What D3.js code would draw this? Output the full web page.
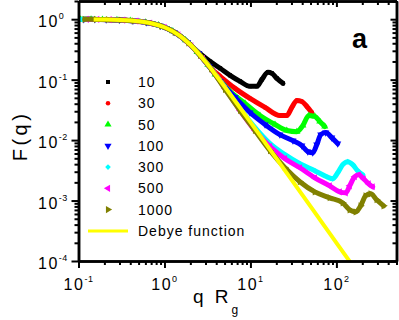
<!DOCTYPE html>
<html><head><meta charset="utf-8">
<script src="https://cdn.jsdelivr.net/npm/d3@7"></script>
<style>body{margin:0;background:#fff}svg{display:block}</style>
</head><body><svg id="c" width="399" height="320"></svg>
<script>
// ---- data ----
const seriesNames = ["10","30","50","100","300","500","1000"];
const seriesColors = ["#000000","#ff0000","#00ff00","#0000ff","#00ffff","#ff00ff","#808000"];

const qN10 = [0.13,0.17,0.24,0.35,0.5,0.75,1.1,1.6,2.2,2.6,3.4,4.44,5.79,7.57,9.88,11.9,13.6,16.0,17.8,20.3,23.9];
const fN10 = [0.994,0.990,0.981,0.960,0.922,0.836,0.694,0.50,0.33,0.27,0.20,0.154,0.118,0.0937,0.0774,0.0774,0.101,0.132,0.127,0.105,0.0868];

const qN30 = [0.12,0.16,0.22,0.32,0.45,0.65,0.95,1.35,1.9,2.6,3.4,4.44,6.62,9.88,14.8,22.0,26.5,30.3,34.7,39.6,45.3,51.7];
const fN30 = [0.995,0.992,0.984,0.967,0.936,0.873,0.757,0.593,0.405,0.252,0.158,0.1135,0.0717,0.0489,0.0347,0.0255,0.0255,0.0347,0.0453,0.0436,0.0360,0.0286];

const qN50 = [0.105,0.14,0.19,0.28,0.4,0.6,0.85,1.25,1.75,2.4,3.2,3.88,5.79,8.65,12.9,19.3,26.5,34.7,40.7,47.8,56.1,64.1,73.2];
const fN50 = [0.996,0.994,0.988,0.974,0.948,0.890,0.797,0.633,0.450,0.287,0.176,0.1225,0.0639,0.0404,0.0255,0.0181,0.0144,0.0138,0.0174,0.0255,0.0246,0.0203,0.0168];

const qN100 = [0.115,0.155,0.21,0.3,0.43,0.62,0.9,1.3,1.85,2.5,3.3,4.44,6.62,9.88,14.8,22.0,31.2,39.6,46.5,53.1,59.1,65.8,75.2,88.2,103.5];
const fN100 = [0.996,0.992,0.986,0.971,0.941,0.883,0.777,0.612,0.419,0.269,0.167,0.095,0.0508,0.0286,0.0181,0.0123,0.00981,0.00811,0.00645,0.00620,0.00842,0.0123,0.0133,0.0110,0.00875];

const qN300 = [0.11,0.145,0.2,0.29,0.42,0.58,0.82,1.2,1.7,2.3,3.1,4.0,5.07,7.57,11.3,16.9,25.2,37.6,56.1,77.2,90.6,103.5,118.4,135.3,154.6,176.6,201.9];
const fN300 = [0.996,0.993,0.987,0.973,0.943,0.897,0.809,0.653,0.466,0.307,0.187,0.117,0.073,0.033,0.0161,0.00875,0.00574,0.00407,0.00311,0.00248,0.00229,0.00288,0.00392,0.00440,0.00392,0.00311,0.00267];

const qN500 = [0.125,0.165,0.23,0.33,0.47,0.68,1.0,1.45,2.05,2.8,3.7,5.07,7.57,11.3,16.9,25.2,37.6,56.1,83.6,109.3,128.2,142.7,163.1,181.4,207.3,237.1,263.9];
const fN500 = [0.995,0.991,0.983,0.965,0.931,0.861,0.736,0.554,0.364,0.223,0.135,0.0717,0.0309,0.0144,0.0078,0.00493,0.00349,0.00238,0.00175,0.00139,0.00134,0.00175,0.00248,0.00267,0.00229,0.00189,0.00169];

const qN1000 = [0.118,0.16,0.22,0.31,0.44,0.63,0.92,1.32,1.9,2.6,3.5,5.07,7.57,11.3,16.9,25.2,37.6,56.1,83.6,118.4,142.7,167.5,191.4,218.8,250.2,293.6,354.1];
const fN1000 = [0.995,0.992,0.984,0.969,0.938,0.880,0.769,0.604,0.405,0.252,0.150,0.0690,0.0309,0.0144,0.0067,0.00349,0.00205,0.00139,0.00111,0.000916,0.000701,0.000649,0.000817,0.00120,0.00129,0.00103,0.000817];

const qDebye = [0.15,0.2,0.3,0.5,0.7,1,1.5,2,3,4,5,7,10,15,20,30,50,70,100,150];
const fDebye = [0.9925,0.9868,0.9706,0.9216,0.8547,0.7358,0.5355,0.377,0.1975,0.1172,0.0768,0.040,0.0198,0.00885,0.00499,0.00222,0.00080,0.000408,0.00020,0.0000889];

const xTickValues = [0.1,1,10,100];
const xTickExps = ["-1","0","1","2"];
const yTickValues = [1e-4,1e-3,1e-2,1e-1,1];
const yTickExps = ["-4","-3","-2","-1","0"];
const debyeLabel = "Debye function";

// ---- drawing ----
const FONT = "'Liberation Sans', Arial, sans-serif";
const svg = d3.select("#c");
const L = 78.5, R = 396.5, T = 1, B = 261;
const x = d3.scaleLog().domain([0.1, 500]).range([L, R]);
const y = d3.scaleLog().domain([1e-4, 2]).range([B, T]);

svg.append("defs").append("clipPath").attr("id","clip")
  .append("rect").attr("x",L).attr("y",T).attr("width",R-L).attr("height",B-T);

const qs = [qN10,qN30,qN50,qN100,qN300,qN500,qN1000];
const fs = [fN10,fN30,fN50,fN100,fN300,fN500,fN1000];
const symTypes = [
  {t:d3.symbolSquare, r:0, s:16},
  {t:d3.symbolCircle, r:0, s:16},
  {t:d3.symbolTriangle, r:0, s:22},
  {t:d3.symbolTriangle, r:180, s:22},
  {t:d3.symbolSquare, r:45, s:16},
  {t:d3.symbolTriangle, r:-90, s:22},
  {t:d3.symbolTriangle, r:90, s:22}
];

const line = d3.line().x(d=>x(d[0])).y(d=>y(d[1])).curve(d3.curveMonotoneX);
const plot = svg.append("g").attr("clip-path","url(#clip)");

seriesNames.forEach((name,i)=>{
  const pts = qs[i].map((q,j)=>[q, fs[i][j]]);
  plot.append("path").datum(pts).attr("d",line)
    .attr("fill","none").attr("stroke",seriesColors[i])
    .attr("stroke-width",5).attr("stroke-linejoin","round").attr("stroke-linecap","round");
  const sy = d3.symbol().type(symTypes[i].t).size(symTypes[i].s);
  plot.selectAll(null).data(pts).enter().append("path")
    .attr("d", sy())
    .attr("transform", d=>`translate(${x(d[0])},${y(d[1])}) rotate(${symTypes[i].r})`)
    .attr("fill", seriesColors[i]);
});

const debyePts = qDebye.map((q,j)=>[q,fDebye[j]]);
plot.append("path").datum(debyePts).attr("d",line)
  .attr("fill","none").attr("stroke","#ffff00").attr("stroke-width",4);

// ---- axes ----
const xMinor = x.ticks().filter(v=>!xTickValues.some(m=>Math.abs(m-v)/m<1e-6));
const yMinor = y.ticks().filter(v=>!yTickValues.some(m=>Math.abs(m-v)/m<1e-6));

function styleAxis(g){
  g.selectAll("path.domain").attr("stroke","#000").attr("stroke-width",2.5);
  g.selectAll(".tick line").attr("stroke","#000").attr("stroke-width",2);
  g.selectAll(".tick text").remove();
}
// bottom
svg.append("g").attr("transform",`translate(0,${B})`)
  .call(d3.axisBottom(x).tickValues(xTickValues).tickSize(7).tickSizeOuter(0).tickFormat("")).call(styleAxis);
svg.append("g").attr("transform",`translate(0,${B})`)
  .call(d3.axisBottom(x).tickValues(xMinor).tickSize(4).tickSizeOuter(0).tickFormat("")).call(styleAxis);
// top
svg.append("g").attr("transform",`translate(0,${T})`)
  .call(d3.axisBottom(x).tickValues(xTickValues).tickSize(6).tickSizeOuter(0).tickFormat("")).call(styleAxis);
svg.append("g").attr("transform",`translate(0,${T})`)
  .call(d3.axisBottom(x).tickValues(xMinor).tickSize(4).tickSizeOuter(0).tickFormat("")).call(styleAxis);
// left
svg.append("g").attr("transform",`translate(${L},0)`)
  .call(d3.axisLeft(y).tickValues(yTickValues).tickSize(7).tickSizeOuter(0).tickFormat("")).call(styleAxis);
svg.append("g").attr("transform",`translate(${L},0)`)
  .call(d3.axisLeft(y).tickValues(yMinor).tickSize(4).tickSizeOuter(0).tickFormat("")).call(styleAxis);
// right
svg.append("g").attr("transform",`translate(${R},0)`)
  .call(d3.axisLeft(y).tickValues(yTickValues).tickSize(6).tickSizeOuter(0).tickFormat("")).call(styleAxis);
svg.append("g").attr("transform",`translate(${R},0)`)
  .call(d3.axisLeft(y).tickValues(yMinor).tickSize(4).tickSizeOuter(0).tickFormat("")).call(styleAxis);

// tick labels
xTickValues.forEach((v,i)=>{
  const t = svg.append("text").attr("x",x(v)).attr("y",290)
    .attr("text-anchor","middle").attr("font-family",FONT).attr("font-size",16)
    .attr("letter-spacing",1.5).attr("fill","#000");
  t.append("tspan").text("10");
  t.append("tspan").attr("dy",-8).attr("font-size",9).attr("letter-spacing",0.5).text(xTickExps[i]);
});
yTickValues.forEach((v,i)=>{
  const t = svg.append("text").attr("x",38).attr("y",y(v)+8)
    .attr("text-anchor","start").attr("font-family",FONT).attr("font-size",16)
    .attr("letter-spacing",1.5).attr("fill","#000");
  t.append("tspan").text("10");
  t.append("tspan").attr("dy",-8).attr("font-size",9).attr("letter-spacing",0.5).text(yTickExps[i]);
});

// axis titles
svg.append("text").attr("transform","translate(27,136) rotate(-90)")
  .attr("text-anchor","middle").attr("font-family",FONT).attr("font-size",20)
  .attr("letter-spacing",3.5).text("F(q)");
const xl = svg.append("text").attr("x",193).attr("y",303)
  .attr("font-family",FONT).attr("font-size",19).attr("letter-spacing",3);
xl.append("tspan").text("q R");
xl.append("tspan").attr("dy",11).attr("font-size",12).attr("letter-spacing",0).text("g");

// panel label
svg.append("text").attr("x",352).attr("y",48).attr("font-family",FONT)
  .attr("font-size",27).attr("font-weight","bold").text("a");

// legend
const legY0 = 82, legDy = 21.27;
seriesNames.forEach((name,i)=>{
  const yy = legY0 + i*legDy;
  const sy = d3.symbol().type(symTypes[i].t).size(symTypes[i].s);
  svg.append("path").attr("d",sy()).attr("transform",`translate(108,${yy}) rotate(${symTypes[i].r})`)
    .attr("fill",seriesColors[i]);
  svg.append("text").attr("x",138).attr("y",yy+5).attr("font-family",FONT)
    .attr("font-size",14).attr("letter-spacing",1).text(name);
});
{
  const yy = legY0 + 7*legDy;
  svg.append("line").attr("x1",88).attr("x2",128).attr("y1",yy).attr("y2",yy)
    .attr("stroke","#ffff00").attr("stroke-width",3);
  svg.append("text").attr("x",138).attr("y",yy+5).attr("font-family",FONT)
    .attr("font-size",14).attr("letter-spacing",1).text(debyeLabel);
}
</script>
</body></html>
